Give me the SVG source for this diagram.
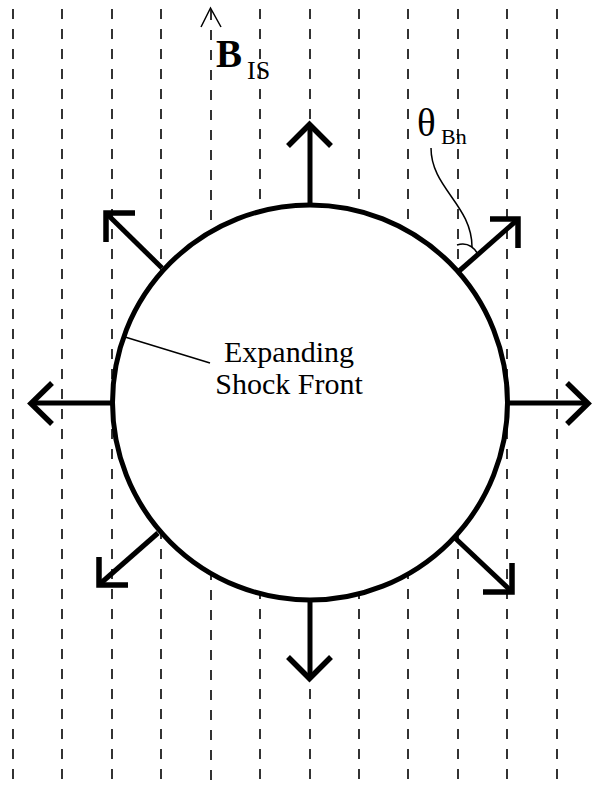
<svg xmlns="http://www.w3.org/2000/svg" width="596" height="789" viewBox="0 0 596 789">
<style>
.field{stroke:#000;stroke-width:1.6;stroke-dasharray:10 10;fill:none}
.arr{stroke:#000;stroke-width:5;fill:none;stroke-linejoin:miter;stroke-linecap:butt}
.head{stroke:#000;stroke-width:5.5;fill:none;stroke-linejoin:miter;stroke-linecap:butt}
.thin{stroke:#000;stroke-width:1.5;fill:none}
.t{font-family:"Liberation Serif","Times New Roman",serif;fill:#000}
</style>
<rect width="596" height="789" fill="#fff"/>
<g id="field-lines">
<line class="field" x1="13" y1="9" x2="13" y2="789"/>
<line class="field" x1="62" y1="9" x2="62" y2="789"/>
<line class="field" x1="112" y1="9" x2="112" y2="789"/>
<line class="field" x1="161" y1="9" x2="161" y2="789"/>
<line class="field" x1="211" y1="10" x2="211" y2="789"/>
<line class="field" x1="260" y1="9" x2="260" y2="789"/>
<line class="field" x1="310" y1="9" x2="310" y2="789"/>
<line class="field" x1="359" y1="9" x2="359" y2="789"/>
<line class="field" x1="408" y1="9" x2="408" y2="789"/>
<line class="field" x1="458" y1="9" x2="458" y2="789"/>
<line class="field" x1="507" y1="9" x2="507" y2="789"/>
<line class="field" x1="557" y1="9" x2="557" y2="789"/>
<polyline class="thin" points="201,27 210.5,8 221,27"/>
</g>
<g id="shock-front">
<circle cx="310" cy="402.5" r="197.5" fill="#fff" stroke="#000" stroke-width="5"/>
</g>
<g id="connectors">
<line class="arr" x1="310" y1="205" x2="310" y2="126"/>
<polyline class="head" points="288,146 309.5,124.5 331,146"/>
<line class="arr" x1="310" y1="600" x2="310" y2="676"/>
<polyline class="head" points="288,657 309.5,678.5 331,657"/>
<line class="arr" x1="112" y1="403" x2="32" y2="403"/>
<polyline class="head" points="52,383 31,403.5 52,424"/>
<line class="arr" x1="508" y1="403" x2="586" y2="403"/>
<polyline class="head" points="567,383 588,403.5 567,424"/>
<line class="arr" x1="162" y1="268" x2="108" y2="215"/>
<polyline class="head" points="106,242 106,213 135,213"/>
<line class="arr" x1="458" y1="272" x2="516" y2="221"/>
<polyline class="head" points="490,219 518,219 518,248"/>
<line class="arr" x1="158" y1="533" x2="101" y2="583"/>
<polyline class="head" points="99,557 99,585 128,585"/>
<line class="arr" x1="455" y1="538" x2="510" y2="590"/>
<polyline class="head" points="512,563 512,592 483,592"/>
<line class="thin" x1="125" y1="337" x2="210" y2="363"/>
<path class="thin" d="M431,148 C431,188 472,205 472,247"/>
<path class="thin" d="M457,245 Q470,241 478,254"/>
</g>
<g id="label-B">
<text class="t" x="216" y="67" font-size="39" font-weight="bold">B</text>
<text class="t" x="247" y="79" font-size="26">IS</text>
</g>
<g id="label-theta">
<text class="t" x="417" y="136" font-size="39">θ</text>
<text class="t" x="441" y="144" font-size="22">Bn</text>
</g>
<g id="label-shock">
<text class="t" x="289" y="362" font-size="30" text-anchor="middle">Expanding</text>
<text class="t" x="289" y="394" font-size="30" text-anchor="middle">Shock Front</text>
</g>
</svg>
